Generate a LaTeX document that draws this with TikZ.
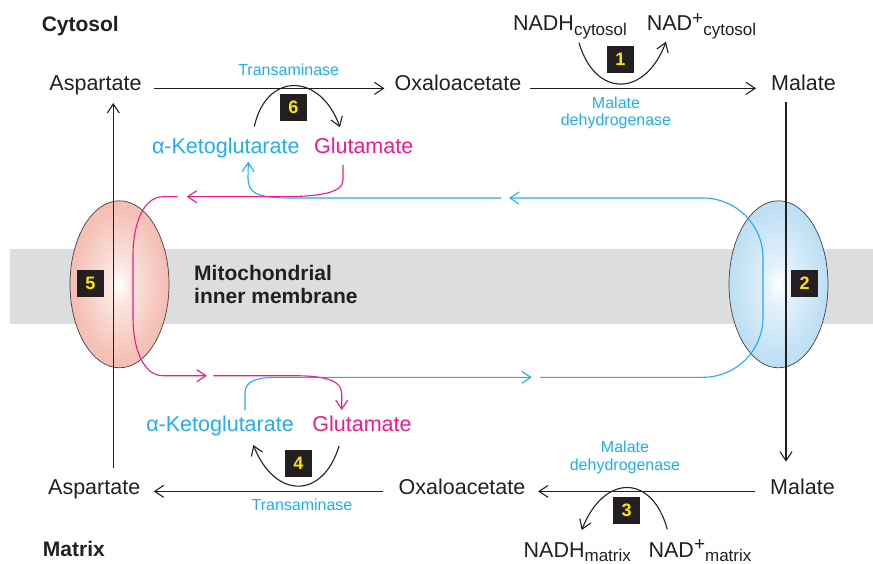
\documentclass[tikz,border=0pt]{standalone}
\usepackage{fontspec}
\setmainfont{Liberation Sans}
\usetikzlibrary{arrows.meta,calc,shapes.geometric}
\definecolor{ink}{HTML}{231F20}
\definecolor{cyn}{HTML}{22AEEA}
\definecolor{pnk}{HTML}{EC1C8C}
\definecolor{memb}{HTML}{DCDDDF}
\definecolor{salmon}{HTML}{F1A898}
\definecolor{skyb}{HTML}{A6D4F0}
\definecolor{ylw}{HTML}{FFE500}
\pgfdeclareradialshading{pinkoval}{\pgfpoint{0bp}{0bp}}{color(0bp)=(white); color(6bp)=(white!70!salmon); color(22bp)=(salmon!70!white); color(40bp)=(salmon); color(50bp)=(salmon)}
\pgfdeclareradialshading{blueoval}{\pgfpoint{0bp}{0bp}}{color(0bp)=(white); color(6bp)=(white!70!skyb); color(22bp)=(skyb!70!white); color(40bp)=(skyb); color(50bp)=(skyb)}
\newcommand{\sbs}[1]{\raisebox{-4.5pt}{\fontsize{17}{17}\selectfont #1}}
\newcommand{\sps}[1]{\raisebox{6.5pt}{\fontsize{19}{19}\selectfont #1}}
\begin{document}
\begin{tikzpicture}[x=1pt,y=-1pt,
  lbl/.style={inner sep=0pt, anchor=base, text=ink, font=\fontsize{21.5}{24}\selectfont},
  enz/.style={inner sep=0pt, anchor=base, text=cyn, font=\fontsize{16}{18}\selectfont},
  region/.style={inner sep=0pt, anchor=base, text=ink, font=\fontsize{21}{23}\selectfont\bfseries},
  numbox/.style={fill=ink, minimum size=27pt, inner sep=0pt, text=ylw, font=\fontsize{18}{18}\selectfont\bfseries},
  tipb/.style={-{Straight Barb[length=9pt,width=12pt]}},
  arr/.style={draw=ink, line width=1.1pt, tipb},
  cyl/.style={draw=cyn, line width=1.1pt},
  pkl/.style={draw=pnk, line width=1.1pt},
  oval/.style={ellipse, draw=ink!85, line width=0.7pt, minimum width=99pt, minimum height=167pt, inner sep=0pt, shade}
]
\useasboundingbox (0,0) rectangle (873,564);
% membrane
\fill[memb] (10,249) rectangle (873,324);
% transporters
\node[oval, shading=pinkoval] (ov5) at (119.5,284.3) {};
\node[oval, shading=blueoval] (ov2) at (778.5,284.3) {};
% labels
\node[region] (cyt) at (80.3,31.7) {Cytosol};
\node[region] (mtx) at (73.9,556.7) {Matrix};
\node[region, anchor=base west] (mem1) at (194,280) {Mitochondrial};
\node[region, anchor=base west] (mem2) at (194,303.3) {inner membrane};
% top row
\node[lbl] (asp1) at (95.5,91) {Aspartate};
\node[lbl] (oxa1) at (458,91) {Oxaloacetate};
\node[lbl] (mal1) at (803.5,91) {Malate};
\node[enz] (tr1) at (288.7,76) {Transaminase};
\node[enz] (md1a) at (616,108.3) {Malate};
\node[enz] (md1b) at (616,126) {dehydrogenase};
\node[lbl] (nadh1) at (570,30.7) {NADH\sbs{cytosol}};
\node[lbl] (nad1) at (701.5,30.7) {NAD\sps{+}\sbs{cytosol}};
\node[lbl, text=cyn] (akg1) at (225.8,153.3) {α-Ketoglutarate};
\node[lbl, text=pnk] (glu1) at (363.7,153.3) {Glutamate};
% bottom row
\node[lbl] (asp2) at (94.2,494) {Aspartate};
\node[lbl] (oxa2) at (462,494) {Oxaloacetate};
\node[lbl] (mal2) at (802.5,494) {Malate};
\node[enz] (tr2) at (302,510) {Transaminase};
\node[enz] (md2a) at (625,452.3) {Malate};
\node[enz] (md2b) at (625,470) {dehydrogenase};
\node[lbl] (nadh2) at (577.3,557.3) {NADH\sbs{matrix}};
\node[lbl] (nad2) at (700,557.3) {NAD\sps{+}\sbs{matrix}};
\node[lbl, text=cyn] (akg2) at (220,431.7) {α-Ketoglutarate};
\node[lbl, text=pnk] (glu2) at (362,431.7) {Glutamate};
% main arrows
\draw[arr] ($(asp1.mid east)+(12,0)$) -- ($(oxa1.mid west)+(-10,0)$);
\draw[arr] ($(oxa1.mid east)+(8.7,0)$) -- ($(mal1.mid west)+(-15,0)$);
\draw[arr] ($(oxa2.mid west)+(-15.3,0)$) -- ($(asp2.mid east)+(13.3,0)$);
\draw[arr] ($(mal2.mid west)+(-15,0)$) -- ($(oxa2.mid east)+(12.6,0)$);
\draw[arr] ($(asp2.base)+(19.1,-26)$) -- ($(asp1.base)+(17.8,12)$);
\draw[arr] ($(mal1.base)+(-17.5,10.7)$) -- ($(mal2.base)+(-16.5,-32.3)$);
% coenzyme curves
\draw[arr] ($(nadh1.base)+(9,12)$) .. controls (595,97.8) and (645,97.8) .. ($(nad1.base)+(-35.5,11)$);
\draw[arr] ($(nad2.base)+(-32.7,-28)$) .. controls (652,473.7) and (604,473.7) .. ($(nadh2.base)+(4.4,-27.3)$);
\draw[arr] ($(akg1.base)+(28.5,-26.6)$) .. controls (266,72) and (320,72) .. ($(glu1.base)+(-23.7,-26)$);
\draw[arr] ($(glu2.base)+(-23,14.3)$) .. controls (323,499.5) and (275,499.5) .. ($(akg2.base)+(33.3,13.3)$);
% cyan (alpha-ketoglutarate) path
\coordinate (ca) at (501,198);
\coordinate (cb) at (540,377.3);
\draw[cyl, tipb] (ca) -- (290,198) .. controls (255,198) and (248,192) .. (248,178) -- ($(akg1.base)+(22.5,8.4)$);
\draw[cyl, tipb, rounded corners=60pt] (cb) -- (763,377.3) -- (763,198) -- (509,198);
\draw[cyl, tipb] ($(akg2.base)+(25,-21.7)$) -- (245,393) .. controls (245,381) and (256,377.3) .. (278,377.3) -- (531.7,377.3);
% pink (glutamate) path
\coordinate (pa) at (177.7,196.7);
\coordinate (pb) at (213.3,375.7);
\draw[pkl, tipb] ($(glu1.base)+(-20.7,11.7)$) -- (343,180) .. controls (343,194) and (315,196.7) .. (280,196.7) -- (186.7,196.7);
\draw[pkl, tipb] (pa) -- (163,196.7) .. controls (143,196.7) and (133,225) .. (133,255) -- (133,318) .. controls (133,348) and (143,375.7) .. (163,375.7) -- (206.7,375.7);
\draw[pkl, tipb] (pb) -- (293,375.7) .. controls (330,375.7) and (341.7,382) .. (341.7,394) -- ($(glu2.base)+(-20.3,-21.7)$);
% number boxes
\node[numbox] (b1) at (620.3,59.3) {1};
\node[numbox] (b2) at (804.5,283.5) {2};
\node[numbox] (b3) at (626.5,510.5) {3};
\node[numbox] (b4) at (298.5,463.7) {4};
\node[numbox] (b5) at (90.5,283.5) {5};
\node[numbox] (b6) at (293.3,107.5) {6};
\end{tikzpicture}
\end{document}
